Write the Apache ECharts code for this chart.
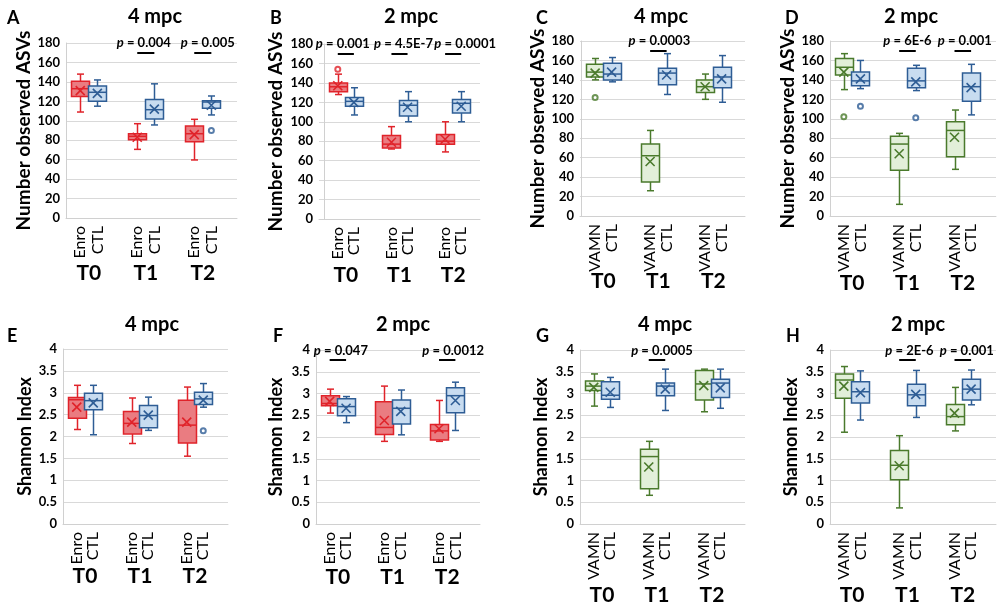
<!DOCTYPE html>
<html>
<head>
<meta charset="utf-8">
<title>Observed ASVs and Shannon index</title>
<script src="https://cdn.jsdelivr.net/npm/echarts@6.0.0/dist/echarts.min.js"></script>
<style>
  html, body { margin: 0; padding: 0; background: #fff; }
  #chart { width: 998px; height: 602px; }
</style>
</head>
<body>
<div id="chart"></div>
<script>
// groups on the x axis and the two arms of each experiment
const groups = ['T0', 'T1', 'T2'];
const enroArms = ['Enro', 'CTL'];
const vamnArms = ['VAMN', 'CTL'];

// box stats are [min, Q1, median, Q3, max] for T0, T1, T2
// A - observed ASVs, Enro, 4 mpc
const aTreated = [[109, 125, 133, 140.6, 148], [70.6, 80.6, 84, 86.7, 97], [59.7, 78.5, 86.7, 94.6, 101.5]];
const aControl = [[115, 120, 129.3, 135.8, 142], [95.7, 101.8, 111.4, 122, 138], [106, 113, 119.3, 120.7, 125.5]];
const aTreatedMean = [131, 83, 85.7];
const aControlMean = [128.2, 112, 116];
const aOutliers = [[1, 2, 90]];            // [arm, group, value]
const aPValues = [[1, '0.004'], [2, '0.005']];

// B - observed ASVs, Enro, 2 mpc
const bTreated = [[128, 131, 136, 140, 149], [72, 73, 77, 86, 95], [69, 77, 80, 87, 100]];
const bControl = [[107, 116, 121, 125, 135], [100, 106, 117, 122, 131], [100, 109, 119, 123, 131]];
const bTreatedMean = [137, 79, 82];
const bControlMean = [120, 115, 116];
const bOutliers = [[0, 0, 154]];
const bPValues = [[0, '0.001'], [1, '4.5E-7'], [2, '0.0001']];

// C - observed ASVs, VAMN, 4 mpc
const cTreated = [[140, 143, 148, 156, 162], [26, 35, 62, 74, 88], [120, 127, 133, 140, 146]];
const cControl = [[138, 140, 146, 157, 163], [125, 135, 147, 152, 167], [117, 132, 143, 153, 165]];
const cTreatedMean = [147, 56, 133];
const cControlMean = [148, 145, 141];
const cOutliers = [[0, 0, 122]];
const cPValues = [[1, '0.0003']];

// D - observed ASVs, VAMN, 2 mpc
const dTreated = [[130, 145, 153, 162, 167], [12, 47, 74, 82, 85], [48, 61, 88, 97, 109]];
const dControl = [[131, 134, 139, 148, 160], [129, 132, 139, 152, 155], [104, 118, 133, 147, 156]];
const dTreatedMean = [148, 64, 81];
const dControlMean = [141, 138, 132];
const dOutliers = [[0, 0, 102], [1, 0, 113], [1, 1, 101]];
const dPValues = [[1, '6E-6'], [2, '0.001']];

// E - Shannon, Enro, 4 mpc
const eTreated = [[2.16, 2.42, 2.84, 2.89, 3.17], [1.84, 2.06, 2.30, 2.57, 2.88], [1.55, 1.85, 2.26, 2.83, 3.13]];
const eControl = [[2.04, 2.61, 2.82, 2.99, 3.17], [2.14, 2.20, 2.48, 2.71, 2.90], [2.67, 2.73, 2.86, 3.01, 3.21]];
const eTreatedMean = [2.67, 2.33, 2.33];
const eControlMean = [2.77, 2.49, 2.83];
const eOutliers = [[1, 2, 2.13]];
const ePValues = [];

// F - Shannon, Enro, 2 mpc
const fTreated = [[2.55, 2.72, 2.77, 2.95, 3.10], [1.90, 2.06, 2.22, 2.81, 3.17], [1.90, 1.93, 2.14, 2.29, 2.84]];
const fControl = [[2.33, 2.49, 2.70, 2.88, 2.93], [2.05, 2.30, 2.66, 2.85, 3.08], [2.15, 2.56, 2.95, 3.13, 3.26]];
const fTreatedMean = [2.82, 2.38, 2.19];
const fControlMean = [2.66, 2.59, 2.84];
const fOutliers = [];
const fPValues = [[0, '0.047'], [2, '0.0012']];

// G - Shannon, VAMN, 4 mpc
const gTreated = [[2.71, 3.07, 3.17, 3.29, 3.45], [0.66, 0.81, 1.55, 1.72, 1.90], [2.58, 2.85, 3.22, 3.53, 3.56]];
const gControl = [[2.68, 2.87, 2.96, 3.27, 3.37], [2.61, 2.95, 3.17, 3.24, 3.56], [2.66, 2.91, 3.24, 3.33, 3.56]];
const gTreatedMean = [3.14, 1.31, 3.18];
const gControlMean = [3.03, 3.10, 3.13];
const gOutliers = [];
const gPValues = [[1, '0.0005']];

// H - Shannon, VAMN, 2 mpc
const hTreated = [[2.11, 2.89, 3.31, 3.45, 3.62], [0.37, 1.02, 1.35, 1.69, 2.03], [2.14, 2.28, 2.47, 2.75, 3.14]];
const hControl = [[2.39, 2.78, 3.04, 3.27, 3.52], [2.45, 2.72, 2.97, 3.21, 3.53], [2.74, 2.85, 3.10, 3.33, 3.54]];
const hTreatedMean = [3.17, 1.34, 2.55];
const hControlMean = [3.02, 2.98, 3.10];
const hOutliers = [];
const hPValues = [[1, '2E-6'], [2, '0.001']];

const palette = {
    Enro: { stroke: '#e0232a', fill: '#ea7c81' },
    VAMN: { stroke: '#4a7a2c', fill: '#e2efd9' },
    CTL:  { stroke: '#2e5d95', fill: '#c8dcf0' }
};

const metrics = {
    asv: { max: 180, interval: 20, name: 'Number observed ASVs', nameSize: 19, pLevel: 170 },
    shannon: { max: 4, interval: 0.5, name: 'Shannon Index', nameSize: 18, pLevel: 3.77 }
};

// x runs 0..30 in every panel; box centres of [treated, control] per group
const slots = [[2.5, 5.5], [12.5, 15.5], [22.5, 25.5]];
const groupTicks = [4, 14, 24];

// layout: grid [left, top, width, height], x shift of the boxes, p-label nudges (px)
const panels = [
    { letter: 'A', title: '4 mpc', metric: 'asv', arms: enroArms, box: [aTreated, aControl], mean: [aTreatedMean, aControlMean], out: aOutliers, p: aPValues,
      grid: [66, 43, 171, 175], xShift: 0, pDx: [-2, 5], nameGap: 32, tMargin: 45, letterPos: [2, 4], titlePos: [150, 2] },
    { letter: 'B', title: '2 mpc', metric: 'asv', arms: enroArms, box: [bTreated, bControl], mean: [bTreatedMean, bControlMean], out: bOutliers, p: bPValues,
      grid: [319, 44, 161, 175], xShift: 1, pDx: [-3, 4, 12], nameGap: 34, tMargin: 46, letterPos: [265, 4], titlePos: [406, 2] },
    { letter: 'C', title: '4 mpc', metric: 'asv', arms: vamnArms, box: [cTreated, cControl], mean: [cTreatedMean, cControlMean], out: cOutliers, p: cPValues,
      grid: [580, 41, 165, 175], xShift: 0.25, pDx: [1], nameGap: 30, tMargin: 55, letterPos: [531, 4], titlePos: [656, 2] },
    { letter: 'D', title: '2 mpc', metric: 'asv', arms: vamnArms, box: [dTreated, dControl], mean: [dTreatedMean, dControlMean], out: dOutliers, p: dPValues,
      grid: [830, 41, 166, 175], xShift: 0, pDx: [0, 2], nameGap: 30, tMargin: 57, letterPos: [780, 4], titlePos: [906, 2] },
    { letter: 'E', title: '4 mpc', metric: 'shannon', arms: enroArms, box: [eTreated, eControl], mean: [eTreatedMean, eControlMean], out: eOutliers, p: ePValues,
      grid: [63, 349, 165, 175], xShift: 0, pDx: [], nameGap: 29, tMargin: 42, letterPos: [2, 322], titlePos: [147, 310] },
    { letter: 'F', title: '2 mpc', metric: 'shannon', arms: enroArms, box: [fTreated, fControl], mean: [fTreatedMean, fControlMean], out: fOutliers, p: fPValues,
      grid: [316, 350, 164, 174], xShift: 0, pDx: [3, 6], nameGap: 31, tMargin: 43, letterPos: [268, 322], titlePos: [398, 310] },
    { letter: 'G', title: '4 mpc', metric: 'shannon', arms: vamnArms, box: [gTreated, gControl], mean: [gTreatedMean, gControlMean], out: gOutliers, p: gPValues,
      grid: [580, 350, 165, 174], xShift: 0, pDx: [5], nameGap: 30, tMargin: 61, letterPos: [531, 322], titlePos: [660, 310] },
    { letter: 'H', title: '2 mpc', metric: 'shannon', arms: vamnArms, box: [hTreated, hControl], mean: [hTreatedMean, hControlMean], out: hOutliers, p: hPValues,
      grid: [830, 350, 166, 174], xShift: 0, pDx: [2, 4], nameGap: 30, tMargin: 61, letterPos: [781, 322], titlePos: [913, 310] }
];

const FONT = 'Lato';
const crossSymbol = 'path://M0,0L10,10M10,0L0,10';

function armLabel(arms, v) {
    for (let g = 0; g < slots.length; g++) {
        for (let a = 0; a < 2; a++) {
            if (Math.abs(slots[g][a] - v) < 0.01) return arms[a];
        }
    }
    return '';
}

function makeBoxRenderer(arms) {
    return function (params, api) {
        const x = api.value(0);
        const c = palette[arms[api.value(6)]];
        const pts = [1, 2, 3, 4, 5].map(d => api.coord([x, api.value(d)]));
        const cx = Math.round(pts[0][0]) + 0.5;
        const hw = 9, cap = 3.5;
        const ln = (x1, y1, x2, y2) => ({
            type: 'line', shape: { x1, y1, x2, y2 },
            style: { stroke: c.stroke, lineWidth: 1.5 }
        });
        return {
            type: 'group',
            children: [
                ln(cx, pts[0][1], cx, pts[1][1]),
                ln(cx, pts[3][1], cx, pts[4][1]),
                ln(cx - cap, pts[0][1], cx + cap, pts[0][1]),
                ln(cx - cap, pts[4][1], cx + cap, pts[4][1]),
                {
                    type: 'rect',
                    shape: { x: cx - hw, y: pts[3][1], width: hw * 2, height: pts[1][1] - pts[3][1] },
                    style: { fill: c.fill, stroke: c.stroke, lineWidth: 1.5 }
                },
                ln(cx - hw, pts[2][1], cx + hw, pts[2][1])
            ]
        };
    };
}

// rich-text padding so a centred label can be nudged left or right
const pRich = { i: { fontFamily: 'Lato', fontSize: 13, fontWeight: 'bold', fontStyle: 'italic', color: '#000' } };
function pLabel(txt, dx) {
    const key = 'pad' + Math.abs(dx);
    pRich[key] = { width: Math.abs(dx) * 2, height: 1 };
    const body = '{i|p} = ' + txt;
    if (dx > 0) return '{' + key + '|}' + body;
    if (dx < 0) return body + '{' + key + '|}';
    return body;
}

const titles = [], grids = [], xAxes = [], yAxes = [], series = [];

panels.forEach((p, i) => {
    const m = metrics[p.metric];
    titles.push({
        text: p.letter, left: p.letterPos[0], top: p.letterPos[1],
        textStyle: { fontFamily: FONT, fontSize: 18, fontWeight: 'bold', color: '#000' }
    });
    titles.push({
        text: p.title, left: p.titlePos[0], top: p.titlePos[1], textAlign: 'center',
        textStyle: { fontFamily: FONT, fontSize: 20, fontWeight: 'bold', color: '#000' }
    });
    grids.push({
        left: p.grid[0], top: p.grid[1], width: p.grid[2], height: p.grid[3],
        containLabel: false, outerBoundsMode: 'none'
    });
    // per-box arm labels
    xAxes.push({
        type: 'value', gridIndex: i, min: -p.xShift, max: 30 - p.xShift, position: 'bottom',
        axisLine: { show: true, onZero: false, lineStyle: { color: '#d0d0d0', width: 1 } },
        axisTick: { show: false },
        splitLine: { show: false },
        axisLabel: {
            customValues: slots.flat(), rotate: 90, margin: 8,
            fontFamily: FONT, fontSize: 16, color: '#000',
            formatter: v => armLabel(p.arms, v)
        }
    });
    // group labels T0 / T1 / T2
    xAxes.push({
        type: 'value', gridIndex: i, min: -p.xShift, max: 30 - p.xShift, position: 'bottom',
        axisLine: { show: false }, axisTick: { show: false }, splitLine: { show: false },
        axisLabel: {
            customValues: groupTicks, margin: p.tMargin,
            fontFamily: FONT, fontSize: 21, fontWeight: 'bold', color: '#000',
            formatter: v => groups[groupTicks.indexOf(v)] || ''
        }
    });
    yAxes.push({
        type: 'value', gridIndex: i, min: 0, max: m.max, interval: m.interval,
        name: m.name, nameLocation: 'middle', nameGap: p.nameGap,
        nameTextStyle: { fontFamily: FONT, fontSize: m.nameSize, fontWeight: 'bold', color: '#000' },
        axisLine: { show: true, lineStyle: { color: '#d0d0d0', width: 1 } },
        axisTick: { show: false },
        splitLine: { lineStyle: { color: '#d9d9d9', width: 1 } },
        axisLabel: { fontFamily: FONT, fontSize: 13, fontWeight: 'bold', color: '#000', margin: 6 }
    });

    const boxData = [], meanData = [], outData = [];
    groups.forEach((g, gi) => {
        [0, 1].forEach(a => {
            const x = slots[gi][a];
            boxData.push([x].concat(p.box[a][gi], [a]));
            meanData.push({ value: [x, p.mean[a][gi]], itemStyle: { borderColor: palette[p.arms[a]].stroke } });
        });
    });
    p.out.forEach(([a, gi, v]) => {
        const s = palette[p.arms[a]].stroke;
        outData.push({ value: [slots[gi][a], v], itemStyle: { color: s, borderColor: s } });
    });

    series.push({
        type: 'custom', xAxisIndex: 2 * i, yAxisIndex: i,
        renderItem: makeBoxRenderer(p.arms),
        encode: { x: 0, y: [1, 2, 3, 4, 5] },
        data: boxData,
        clip: false,
        markLine: {
            silent: true, animation: false, symbol: ['none', 'none'],
            lineStyle: { color: '#000', width: 2, type: 'solid' },
            label: {
                position: 'middle', distance: 3,
                fontFamily: FONT, fontSize: 13, fontWeight: 'bold', color: '#000',
                formatter: prm => prm.name,
                rich: pRich
            },
            data: p.p.map(([gi, txt], k) => [
                { name: pLabel(txt, p.pDx[k] || 0), coord: [slots[gi][0], m.pLevel] },
                { coord: [slots[gi][1], m.pLevel] }
            ])
        }
    });
    series.push({
        type: 'scatter', xAxisIndex: 2 * i, yAxisIndex: i, z: 4, clip: false,
        symbol: crossSymbol, symbolSize: 9,
        itemStyle: { color: 'none', borderWidth: 1.6, opacity: 1 },
        data: meanData
    });
    if (outData.length) {
        series.push({
            type: 'scatter', xAxisIndex: 2 * i, yAxisIndex: i, z: 4, clip: false,
            symbol: 'emptyCircle', symbolSize: 5,
            itemStyle: { borderWidth: 1.3 },
            data: outData
        });
    }
});

const chart = echarts.init(document.getElementById('chart'));
chart.setOption({
    animation: false,
    backgroundColor: '#fff',
    textStyle: { fontFamily: FONT },
    title: titles,
    grid: grids,
    xAxis: xAxes,
    yAxis: yAxes,
    series: series
});
</script>
</body>
</html>
